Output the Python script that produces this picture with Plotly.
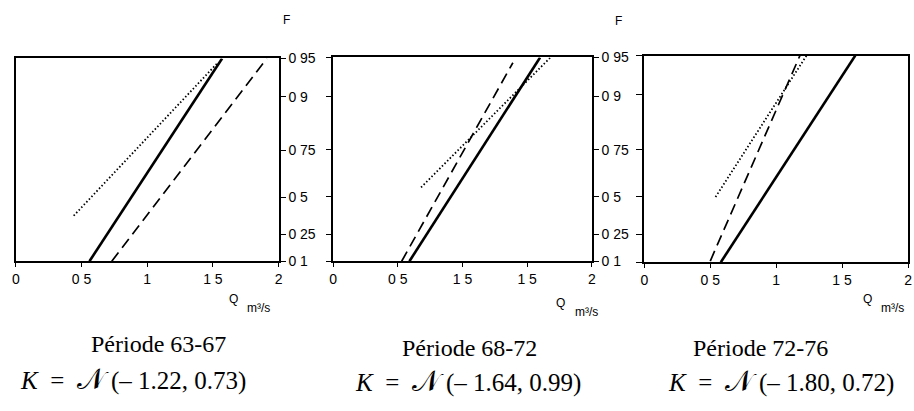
import numpy as np
import plotly.graph_objects as go

W, H = 914, 411

# ---- data ----
F_ticks = [0.1, 0.25, 0.5, 0.75, 0.9, 0.95]
F_ticktext = ["0 1", "0 25", "0 5", "0 75", "0 9", "0 95"]
Q_ticks = [0, 0.5, 1, 1.5, 2]
Q_ticktext_1 = ["0", "0 5", "1", "1 5", "2"]
Q_ticktext_2 = ["0", "0 5", "1 5", "1 5", "2"]
Q_ticktext_3 = ["0", "0 5", "1", "1 5", "2"]

p1_solid_Q = [0.56, 1.57]
p1_solid_F = [0.1, 0.95]
p1_dashed_Q = [0.73, 1.91]
p1_dashed_F = [0.1, 0.95]
p1_dotted_Q = [0.44, 1.53]
p1_dotted_F = [0.375, 0.945]

p2_solid_Q = [0.59, 1.60]
p2_solid_F = [0.1, 0.95]
p2_dashed_Q = [0.53, 1.39]
p2_dashed_F = [0.1, 0.945]
p2_dotted_Q = [0.68, 1.68]
p2_dotted_F = [0.56, 0.95]

p3_solid_Q = [0.58, 1.60]
p3_solid_F = [0.1, 0.95]
p3_dashed_Q = [0.50, 1.18]
p3_dashed_F = [0.105, 0.95]
p3_dotted_Q = [0.54, 1.23]
p3_dotted_F = [0.50, 0.95]

periods = ["Période 63-67", "Période 68-72", "Période 72-76"]
law_params = ["(– 1.22, 0.73)", "(– 1.64, 0.99)", "(– 1.80, 0.72)"]


def gumbel(F):
    F = np.asarray(F, dtype=float)
    return -np.log(-np.log(F))


def px(x):
    return x / W


def py(y):
    return 1 - y / H


# panel boxes in pixels: (left, right, top, bottom)
boxes = [(12, 277, 52.5, 263.5), (332, 593, 51.5, 263.5), (646, 912, 49.5, 264.5)]

fig = go.Figure()

panels = [
    (p1_solid_Q, p1_solid_F, p1_dashed_Q, p1_dashed_F, p1_dotted_Q, p1_dotted_F),
    (p2_solid_Q, p2_solid_F, p2_dashed_Q, p2_dashed_F, p2_dotted_Q, p2_dotted_F),
    (p3_solid_Q, p3_solid_F, p3_dashed_Q, p3_dashed_F, p3_dotted_Q, p3_dotted_F),
]
xticktexts = [Q_ticktext_1, Q_ticktext_2, Q_ticktext_3]

yr = [float(gumbel(0.1)), float(gumbel(0.95))]
tickfont = dict(family="Liberation Sans", size=14, color="black")

for i, (sQ, sF, dQ, dF, oQ, oF) in enumerate(panels):
    n = "" if i == 0 else str(i + 1)
    xa, ya = "x" + n, "y" + n
    fig.add_trace(go.Scatter(x=oQ, y=gumbel(oF), mode="lines", xaxis=xa, yaxis=ya,
                             line=dict(color="black", width=1.8, dash="1.5px,2.2px"), showlegend=False))
    fig.add_trace(go.Scatter(x=dQ, y=gumbel(dF), mode="lines", xaxis=xa, yaxis=ya,
                             line=dict(color="black", width=1.7, dash="11px,6px"), showlegend=False))
    fig.add_trace(go.Scatter(x=sQ, y=gumbel(sF), mode="lines", xaxis=xa, yaxis=ya,
                             line=dict(color="black", width=2.6), showlegend=False))

    l, r, t, b = boxes[i]
    xkey = "xaxis" + n
    ykey = "yaxis" + n
    fig.layout[xkey] = dict(
        domain=[px(l), px(r)], range=[0, 2], anchor=ya,
        tickvals=Q_ticks, ticktext=xticktexts[i],
        showline=True, mirror=True, linecolor="black", linewidth=2,
        ticks="outside", ticklen=4, tickwidth=1.2, tickcolor="black",
        showgrid=False, zeroline=False, fixedrange=True,
        tickfont=tickfont,
    )
    yax = dict(
        domain=[py(b), py(t)], range=yr, anchor=xa,
        tickvals=list(gumbel(F_ticks)), ticktext=F_ticktext,
        showline=True, mirror=True, linecolor="black", linewidth=2,
        showgrid=False, zeroline=False, fixedrange=True,
        tickfont=tickfont,
        side="right", ticks="outside", ticklen=5, tickwidth=1.2, tickcolor="black",
    )
    if i == 1:
        yax.update(mirror="allticks")
    if i == 2:
        yax.update(side="left", showticklabels=False, ticklen=6)
    fig.layout[ykey] = yax

annotations = []
# F labels
for (x, y) in [(285, 13), (620, 14)]:
    annotations.append(dict(x=px(x), y=py(y), xref="paper", yref="paper", text="F", showarrow=False,
                            xanchor="center", yanchor="middle",
                            font=dict(family="Liberation Sans", size=12, color="black")))
# Q m3/s labels: (Q x, Q y, unit left x, unit y)
for (qx, qy, ux, uy) in [(232, 303, 243, 312), (561, 307, 574, 316), (871, 303, 883, 312)]:
    annotations.append(dict(x=px(qx), y=py(qy), xref="paper", yref="paper", text="Q", showarrow=False,
                            xanchor="center", yanchor="middle",
                            font=dict(family="Liberation Sans", size=12, color="black")))
    annotations.append(dict(x=px(ux), y=py(uy), xref="paper", yref="paper", text="m³/s",
                            xanchor="left", yanchor="middle",
                            showarrow=False, font=dict(family="Liberation Sans", size=12, color="black")))
# captions: (period centre x, y, law centre x, y)
cap_pos = [(156, 350, 130, 386), (470, 354, 468, 388), (763, 354, 784, 388)]
nb = "\u00a0"
for (cx1, y1, cx2, y2), p, k in zip(cap_pos, periods, law_params):
    annotations.append(dict(x=px(cx1), y=py(y1), xref="paper", yref="paper", text=p, showarrow=False,
                            xanchor="center", yanchor="middle",
                            font=dict(family="Liberation Serif", size=24, color="black")))
    law = ("<i>K</i>" + nb + nb + "=" + nb + nb + "<span style='font-size:29px'>𝒩</span>" + nb + k)
    annotations.append(dict(x=px(cx2), y=py(y2), xref="paper", yref="paper", text=law, showarrow=False,
                            xanchor="center", yanchor="middle",
                            font=dict(family="Liberation Serif", size=25, color="black")))

fig.update_layout(
    width=W, height=H, margin=dict(l=0, r=0, t=0, b=0),
    paper_bgcolor="white", plot_bgcolor="white",
    annotations=annotations, showlegend=False,
)

fig.write_html("out.html")
